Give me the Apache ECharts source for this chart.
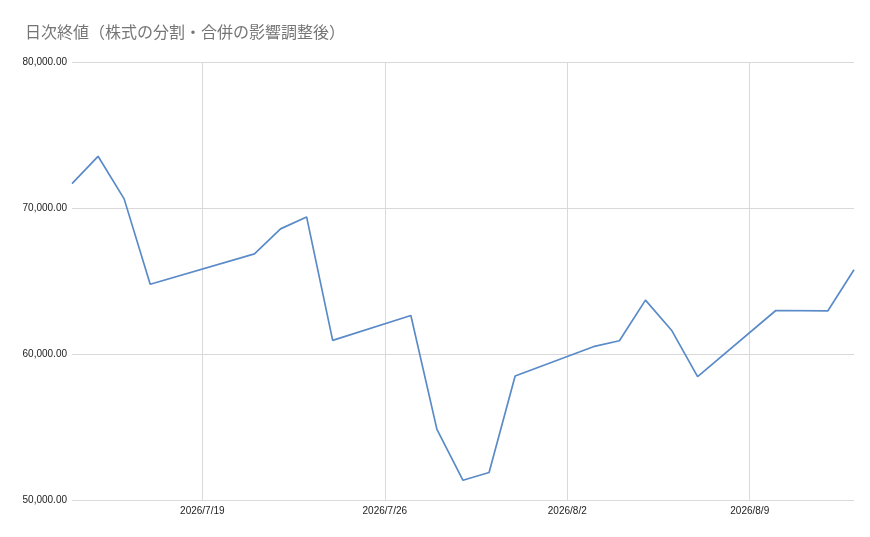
<!DOCTYPE html>
<html>
<head>
<meta charset="utf-8">
<script src="https://cdn.jsdelivr.net/npm/echarts@6/dist/echarts.min.js"></script>
<style>
  html, body { margin: 0; padding: 0; background: #fff; }
  #chart { width: 870px; height: 537px; }
</style>
</head>
<body>
<div id="chart"></div>
<script>
// 取引日（7/20 海の日, 8/11 山の日は休場）
const dates = [
  '2026/7/14', '2026/7/15', '2026/7/16', '2026/7/17',
  '2026/7/21', '2026/7/22', '2026/7/23', '2026/7/24',
  '2026/7/27', '2026/7/28', '2026/7/29', '2026/7/30', '2026/7/31',
  '2026/8/3', '2026/8/4', '2026/8/5', '2026/8/6', '2026/8/7',
  '2026/8/10', '2026/8/12', '2026/8/13'
]
const closes = [
  71670, 73540, 70625, 64780,
  66860, 68570, 69390, 60930,
  62640, 54840, 51350, 51880, 58490,
  60500, 60910, 63690, 61630, 58450,
  62980, 62960, 65770
]
const xTickLabels = ['2026/7/19', '2026/7/26', '2026/8/2', '2026/8/9']
const xStart = '2026/7/14'
const xEnd = '2026/8/13'
const yTicks = [50000, 60000, 70000, 80000]

// 日付 -> 基準日からの日数
const baseDay = Date.UTC(2026, 6, 12)
const toDay = (s) => {
  const p = s.split('/').map(Number)
  return Math.round((Date.UTC(p[0], p[1] - 1, p[2]) - baseDay) / 86400000)
}
const toLabel = (d) => {
  const t = new Date(baseDay + d * 86400000)
  return t.getUTCFullYear() + '/' + (t.getUTCMonth() + 1) + '/' + t.getUTCDate()
}
const xTicks = xTickLabels.map(toDay)

const myChart = echarts.init(document.getElementById('chart'))
myChart.setOption({
  animation: false,
  backgroundColor: '#fff',
  textStyle: { fontFamily: 'Arial, "Liberation Sans", sans-serif' },
  title: {
    text: '日次終値（株式の分割・合併の影響調整後）',
    left: 20,
    top: 19,
    textStyle: {
      fontFamily: '"Noto Sans CJK JP", sans-serif',
      fontSize: 16,
      fontWeight: 'normal',
      color: '#757575'
    }
  },
  grid: { left: 72, right: 16, top: 62, bottom: 37 },
  xAxis: {
    type: 'value',
    min: toDay(xStart),
    max: toDay(xEnd),
    axisLine: { show: false },
    axisTick: { show: false, customValues: xTicks },
    axisLabel: {
      customValues: xTicks,
      formatter: (v) => toLabel(v),
      fontSize: 10,
      color: '#222',
      margin: 6
    },
    splitLine: { show: true, lineStyle: { color: '#d9d9d9', width: 1 } }
  },
  yAxis: {
    type: 'value',
    min: yTicks[0],
    max: yTicks[yTicks.length - 1],
    interval: yTicks[1] - yTicks[0],
    axisLine: { show: false },
    axisTick: { show: false },
    axisLabel: {
      formatter: (v) => v.toLocaleString('en-US', { minimumFractionDigits: 2, maximumFractionDigits: 2 }),
      fontSize: 10,
      color: '#222',
      margin: 5
    },
    splitLine: { lineStyle: { color: '#d9d9d9', width: 1 } }
  },
  series: [{
    type: 'line',
    data: dates.map((d, i) => [toDay(d), closes[i]]),
    showSymbol: false,
    lineStyle: { color: '#5a8bc8', width: 1.7 },
    itemStyle: { color: '#5a8bc8' }
  }]
})
</script>
</body>
</html>
